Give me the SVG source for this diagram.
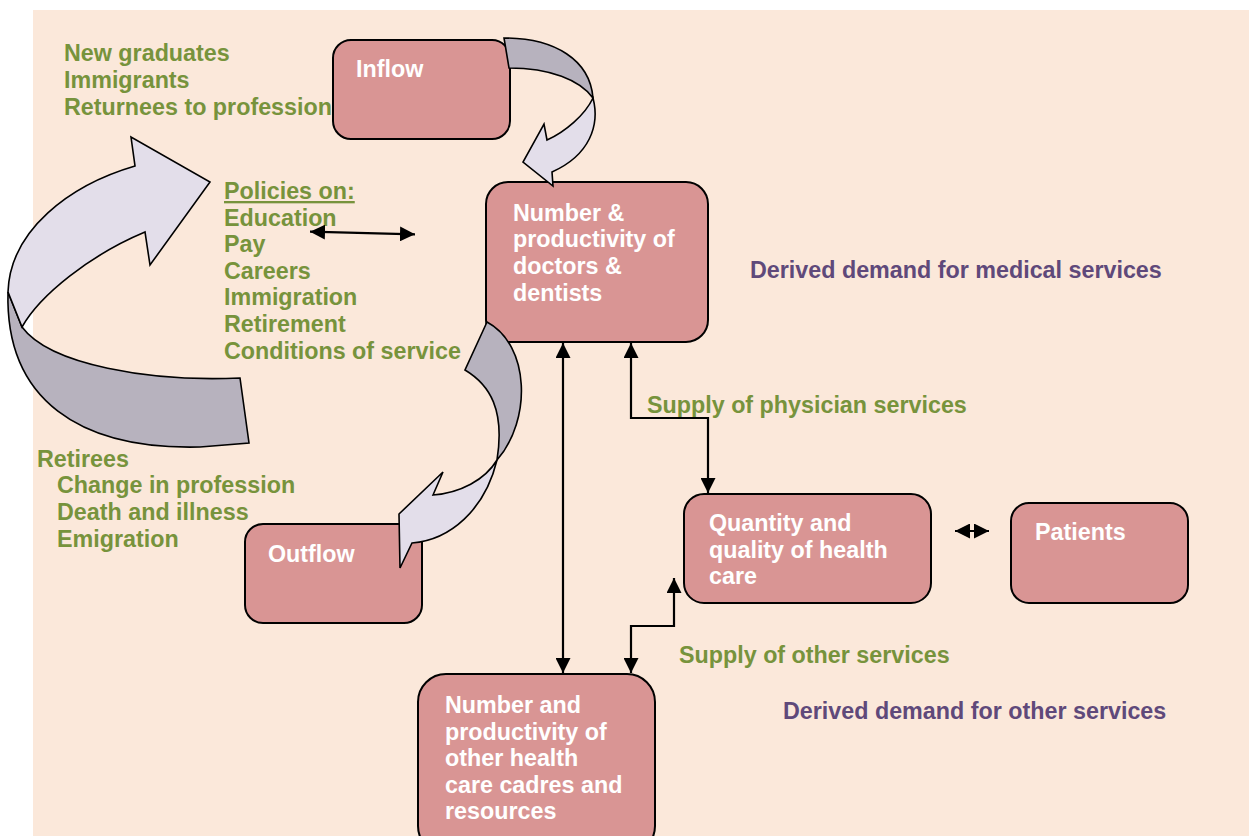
<svg xmlns="http://www.w3.org/2000/svg" width="1249" height="836" viewBox="0 0 1249 836">
<defs>
<style>
.t{font-family:"Liberation Sans",Arial,sans-serif;font-weight:bold;font-size:23.3px}
.g{fill:#77933C}
.p{fill:#5F497A}
.w{fill:#FFFFFF}
.box{fill:#D99594;stroke:#000;stroke-width:2}
.lt{fill:#E3DEEA;stroke:#000;stroke-width:1.6;stroke-linejoin:miter}
.dk{fill:#B7B2BE;stroke:#000;stroke-width:1.6;stroke-linejoin:miter}
.c{fill:none;stroke:#000;stroke-width:2.2;marker-start:url(#ah);marker-end:url(#ah)}
</style>
<marker id="ah" viewBox="0 0 15 15" refX="15" refY="7.5" markerWidth="15" markerHeight="15" markerUnits="userSpaceOnUse" orient="auto-start-reverse">
<path d="M0,0 L15,7.5 L0,15 Z" fill="#000"/>
</marker>
</defs>
<rect x="33" y="10" width="1216" height="826" fill="#FBE8DA"/>

<g id="labels" class="t">
<text class="g" x="64" y="61">New graduates</text>
<text class="g" x="64" y="88">Immigrants</text>
<text class="g" x="64" y="115">Returnees to profession</text>
<text class="g" x="224" y="199" text-decoration="underline">Policies on:</text>
<text class="g" x="224" y="225.6">Education</text>
<text class="g" x="224" y="252.2">Pay</text>
<text class="g" x="224" y="278.8">Careers</text>
<text class="g" x="224" y="305.4">Immigration</text>
<text class="g" x="224" y="332">Retirement</text>
<text class="g" x="224" y="358.6">Conditions of service</text>
<text class="g" x="37" y="466.7">Retirees</text>
<text class="g" x="57" y="493.3">Change in profession</text>
<text class="g" x="57" y="520">Death and illness</text>
<text class="g" x="57" y="546.7">Emigration</text>
<text class="g" x="647" y="413">Supply of physician services</text>
<text class="g" x="679" y="663">Supply of other services</text>
<text class="p" x="750" y="278">Derived demand for medical services</text>
<text class="p" x="783" y="719">Derived demand for other services</text>
</g>

<g id="inflow">
<rect class="box" x="333" y="40" width="177" height="99" rx="18"/>
<text class="t w" x="356" y="77">Inflow</text>
</g>
<g id="doctors">
<rect class="box" x="486" y="182" width="222" height="160" rx="22"/>
<text class="t w" x="513" y="220.7">Number &amp;</text>
<text class="t w" x="513" y="247.3">productivity of</text>
<text class="t w" x="513" y="274">doctors &amp;</text>
<text class="t w" x="513" y="300.6">dentists</text>
</g>
<g id="outflow">
<rect class="box" x="245" y="524" width="177" height="99" rx="18"/>
<text class="t w" x="268" y="562">Outflow</text>
</g>
<g id="quality">
<rect class="box" x="684" y="494" width="247" height="109" rx="20"/>
<text class="t w" x="709" y="531">Quantity and</text>
<text class="t w" x="709" y="557.7">quality of health</text>
<text class="t w" x="709" y="584.3">care</text>
</g>
<g id="patients">
<rect class="box" x="1011" y="503" width="177" height="100" rx="18"/>
<text class="t w" x="1035" y="540">Patients</text>
</g>
<g id="other">
<rect class="box" x="418" y="674" width="237" height="180" rx="28"/>
<text class="t w" x="445" y="713">Number and</text>
<text class="t w" x="445" y="739.6">productivity of</text>
<text class="t w" x="445" y="766.2">other health</text>
<text class="t w" x="445" y="792.8">care cadres and</text>
<text class="t w" x="445" y="819.4">resources</text>
</g>

<g id="flow-arrows">
<path class="dk" d="M8,292 C5,400 80,450 200,447 L249,443 L240,378 C150,382 50,365 22,327 Z"/>
<path class="lt" d="M22,327 C40,295 90,255 145,232 L150,265 L210,182 L131,137 L135,166 C70,185 10,230 8,292 Z"/>
<path class="dk" d="M504,38 C555,38 590,60 593,98 C580,80 550,68 509,68 Z"/>
<path class="lt" d="M593,98 C600,125 590,155 552,172 L553,186 L523,162 L544,124 L547,140 C565,132 585,115 593,98 Z"/>
<path class="dk" d="M487,322 C530,345 532,420 497,460 C505,410 490,385 465,370 Z"/>
<path class="lt" d="M497,460 C485,480 460,493 433,495 L443,472 L399,514 L400,568 L412,543 C450,540 485,510 497,460 Z"/>
</g>

<g id="connectors">
<line class="c" x1="310" y1="231.7" x2="415" y2="234.3"/>
<line class="c" x1="563" y1="343" x2="563" y2="673"/>
<polyline class="c" points="631,343 631,418 708,418 708,493"/>
<polyline class="c" points="631,673 631,626 674,626 674,578"/>
<line class="c" x1="955" y1="531" x2="989" y2="531"/>
</g>
</svg>
